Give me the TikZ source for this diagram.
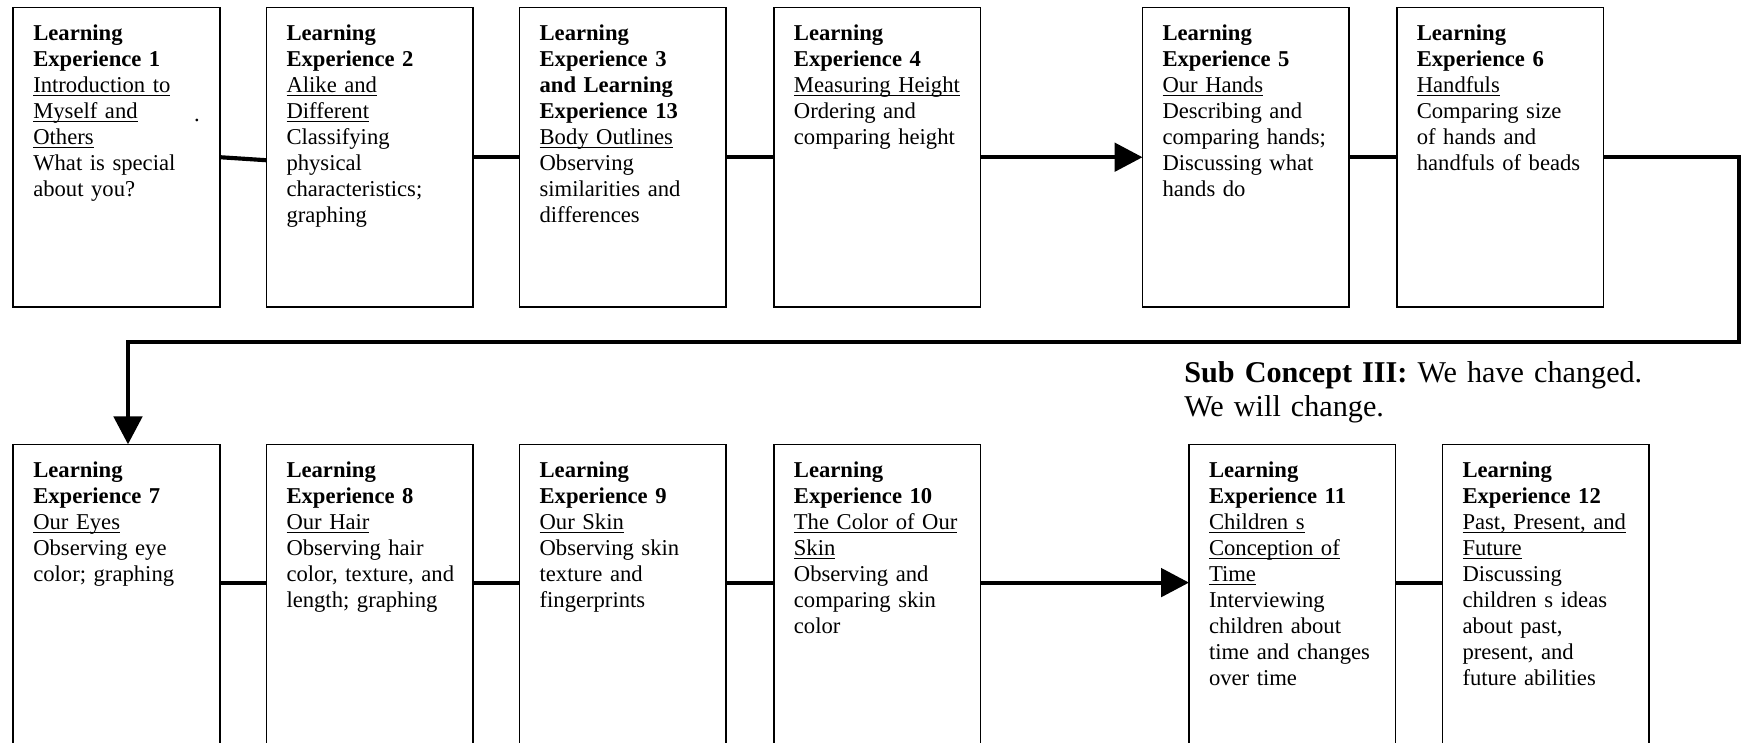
\documentclass[tikz,border=0pt]{standalone}
\usepackage{fontspec}
\setmainfont{Liberation Serif}
\usetikzlibrary{arrows.meta}
\newcommand{\ulbox}[1]{\leavevmode\setbox0\hbox{#1}\rlap{\rule[-1.9pt]{\wd0}{0.7pt}}\box0}

\begin{document}
\begin{tikzpicture}[x=0.53pt,y=-0.53pt,
    lexp/.style={draw,line width=0.85pt,anchor=north west,outer sep=0pt,align=left,
      text width=88.3pt,inner xsep=10.6pt,inner ysep=8.5pt,text height=9pt,text depth=132.7pt,
      font=\fontsize{12}{13.8}\selectfont},
    cut/.style={lexp,text depth=150pt},
    link/.style={line width=2.2pt},
    flow/.style={link,-{Triangle[length=14.8pt,width=15pt]}}]
  \useasboundingbox (0,0) rectangle (1741,742);
  \node[lexp] (b1) at (13.3,7.5) {\textbf{Learning}\\\textbf{Experience 1}\\\ulbox{Introduction to}\\\ulbox{Myself and}\\\ulbox{Others}\\What is special\\about you?};
  \node[lexp] (b2) at (266.5,7.5) {\textbf{Learning}\\\textbf{Experience 2}\\\ulbox{Alike and}\\\ulbox{Different}\\Classifying\\physical\\characteristics;\\graphing};
  \node[lexp] (b3) at (519.6,7.5) {\textbf{Learning}\\\textbf{Experience 3}\\\textbf{and Learning}\\\textbf{Experience 13}\\\ulbox{Body Outlines}\\Observing\\similarities and\\differences};
  \node[lexp] (b4) at (773.9,7.5) {\textbf{Learning}\\\textbf{Experience 4}\\\ulbox{Measuring Height}\\Ordering and\\comparing height};
  \node[lexp] (b5) at (1142.5,7.5) {\textbf{Learning}\\\textbf{Experience 5}\\\ulbox{Our Hands}\\Describing and\\comparing hands;\\Discussing what\\hands do};
  \node[lexp] (b6) at (1396.8,7.5) {\textbf{Learning}\\\textbf{Experience 6}\\\ulbox{Handfuls}\\Comparing size\\of hands and\\handfuls of beads};
  \node[inner sep=0pt,anchor=base,font=\fontsize{12}{13.8}\selectfont] (speck) at (197,121.5) {.};

  \node[anchor=base west,inner sep=0pt,text width=300pt,align=left,font=\fontsize{16}{18.4}\selectfont] (sub3) at (1184,382) {\textbf{Sub Concept III:} We have changed.\\We will change.};

  \node[cut] (b7) at (13.3,444.3) {\textbf{Learning}\\\textbf{Experience 7}\\\ulbox{Our Eyes}\\Observing eye\\color; graphing};
  \node[cut] (b8) at (266.5,444.3) {\textbf{Learning}\\\textbf{Experience 8}\\\ulbox{Our Hair}\\Observing hair\\\mbox{color, texture, and}\\length; graphing};
  \node[cut] (b9) at (519.6,444.3) {\textbf{Learning}\\\textbf{Experience 9}\\\ulbox{Our Skin}\\Observing skin\\texture and\\fingerprints};
  \node[cut] (b10) at (773.9,444.3) {\textbf{Learning}\\\textbf{Experience 10}\\\ulbox{The Color of Our}\\\ulbox{Skin}\\Observing and\\comparing skin\\color};
  \node[cut] (b11) at (1189,444.3) {\textbf{Learning}\\\textbf{Experience 11}\\\ulbox{Children s}\\\ulbox{Conception of}\\\ulbox{Time}\\Interviewing\\children about\\time and changes\\over time};
  \node[cut] (b12) at (1442.5,444.3) {\textbf{Learning}\\\textbf{Experience 12}\\\ulbox{Past, Present, and}\\\ulbox{Future}\\Discussing\\children s ideas\\about past,\\present, and\\future abilities};

  \draw[link] (b1.east) -- ([yshift=-1.6pt]b2.west);
  \draw[link] (b2.east) -- (b3.west);
  \draw[link] (b3.east) -- (b4.west);
  \draw[flow] (b4.east) -- (b5.west);
  \draw[link] (b5.east) -- (b6.west);
  \coordinate (rimR) at (1739,342);
  \coordinate (rimL) at (128,342);
  \draw[flow] (b6.east) -| (rimR) -- (rimL) -- (rimL |- b7.north);
  \draw[link] ([yshift=-73.3pt]b7.north east) -- ([yshift=-73.3pt]b8.north west);
  \draw[link] ([yshift=-73.3pt]b8.north east) -- ([yshift=-73.3pt]b9.north west);
  \draw[link] ([yshift=-73.3pt]b9.north east) -- ([yshift=-73.3pt]b10.north west);
  \draw[flow] ([yshift=-73.3pt]b10.north east) -- ([yshift=-73.3pt]b11.north west);
  \draw[link] ([yshift=-73.3pt]b11.north east) -- ([yshift=-73.3pt]b12.north west);
\end{tikzpicture}
\end{document}
